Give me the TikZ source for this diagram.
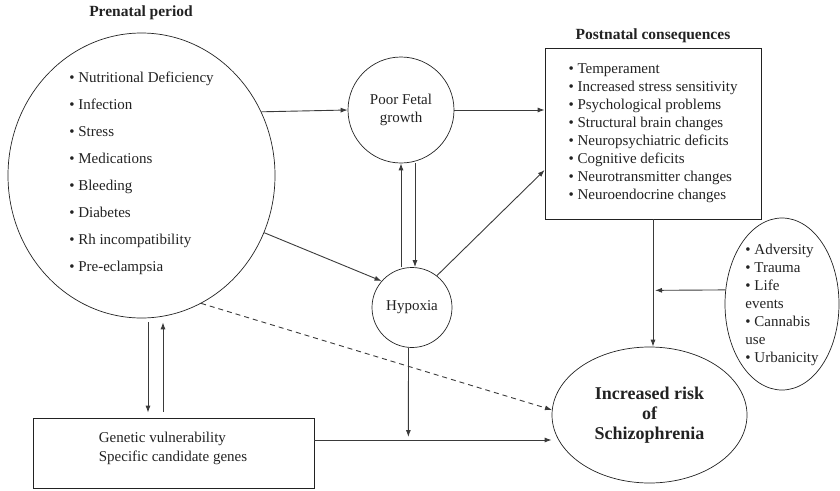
\documentclass[tikz,border=0pt]{standalone}
\usepackage{fontspec}
\setmainfont{Liberation Serif}
\usetikzlibrary{arrows.meta,calc,shapes.geometric}
\definecolor{ink}{HTML}{222222}
\definecolor{lin}{HTML}{3A3A3A}
\tikzset{
  shape line/.style={draw=ink,line width=0.7pt},
  arr/.style={draw=lin,line width=0.9pt,-{Latex[length=7pt,width=5pt]}},
  darr/.style={arr,dash pattern=on 5pt off 4pt},
  txt/.style={inner sep=0pt,text=ink,font=\fontsize{15}{18}\selectfont},
  title/.style={txt,font=\fontsize{15.5}{18}\selectfont\bfseries},
}
\begin{document}
\begin{tikzpicture}[x=1pt,y=-1pt]
\useasboundingbox (0,0) rectangle (840,490);
% titles
\node[title] (t1) at (141,13) {Prenatal period};
\node[title] (t2) at (653,36) {Postnatal consequences};
% prenatal ellipse
\node[ellipse,shape line,minimum width=267pt,minimum height=285pt,inner sep=0pt] (pre) at (141.5,175.5) {};
\node[txt,align=left,font=\fontsize{15}{27}\selectfont] (prelist) at (141.5,173.5)
 {• Nutritional Deficiency\\ • Infection\\ • Stress\\ • Medications\\ • Bleeding\\ • Diabetes\\ • Rh incompatibility\\ • Pre-eclampsia};
% poor fetal growth
\node[circle,shape line,minimum size=106pt,inner sep=0pt,txt,align=center] (pfg) at (401,110) {Poor Fetal\\growth};
% hypoxia
\node[circle,shape line,minimum size=80pt,inner sep=0pt,txt] (hyp) at (412,307.5) {Hypoxia};
% postnatal box
\node[rectangle,shape line,minimum width=216pt,minimum height=171pt,txt,align=left] (post) at (653,133.5)
 {• Temperament\\ • Increased stress sensitivity\\ • Psychological problems\\ • Structural brain changes\\ • Neuropsychiatric deficits\\ • Cognitive deficits\\ • Neurotransmitter changes\\ • Neuroendocrine changes};
% environment ellipse
\node[ellipse,shape line,minimum width=114pt,minimum height=172pt,inner sep=0pt] (env) at (782,304) {};
\node[txt,align=left] (envlist) at (782,304.5)
 {• Adversity\\ • Trauma\\ • Life\\ events\\ • Cannabis\\ use\\ • Urbanicity};
% risk ellipse
\node[ellipse,shape line,minimum width=195pt,minimum height=136pt,inner sep=0pt] (risk) at (649.5,415) {};
\node[txt,align=center,font=\fontsize{18}{20}\selectfont\bfseries] (risktext) at (649.5,415)
 {Increased risk\\ of\\ Schizophrenia};
% genetic box
\node[rectangle,shape line,minimum width=281pt,minimum height=70pt,inner sep=0pt] (gen) at (173.5,453) {};
\node[txt,align=left,font=\fontsize{15}{19}\selectfont] (gentext) at (173,448.5)
 {Genetic vulnerability\\ Specific candidate genes};
% connectors
\draw[arr] (pre.28.9) -- (pfg.west);
\draw[arr] (pfg.east) -- (pfg.east -| post.west);
\draw[arr] (pfg.south |- hyp.north) -- (pfg.south);
\draw[arr] ($(pfg.south)+(14,0)$) -- ($(pfg.south |- hyp.north)+(14,0)$);
\draw[arr] (pre.-25.3) -- (hyp.139);
\draw[arr] (hyp.52.4) -- ($(post.west)+(0,36.5)$);
\coordinate (junc) at ($(gen.east)+(94,-16)$);
\draw[arr] ($(hyp.south)+(-3.5,0)$) -- (junc);
\draw[arr] ($(gen.east)+(0,-13)$) -- ($(gen.east -| risk.west)+(0,-13)$);
\draw[darr] (pre.-65.5) -- (risk.177);
\draw[arr] ($(pre.south)+(6.5,4)$) -- ($(gen.north -| pre.south)+(6.5,-5)$);
\draw[arr] ($(gen.north -| pre.south)+(21.5,-6)$) -- ($(pre.south)+(21.5,4)$);
\draw[arr] (post.south) -- (post.south |- risk.north);
\coordinate (envjoin) at ($(post.south)+(2,71)$);
\draw[arr] (env.166) -- (envjoin);
\end{tikzpicture}
\end{document}
